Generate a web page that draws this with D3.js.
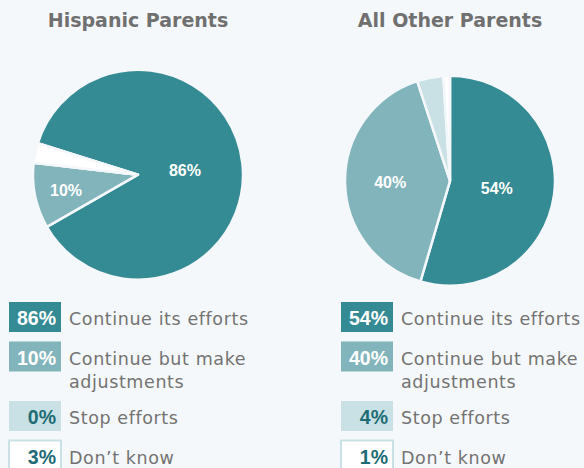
<!DOCTYPE html>
<html>
<head>
<meta charset="utf-8">
<script src="https://cdn.jsdelivr.net/npm/d3@7/dist/d3.min.js"></script>
<style>
  html, body { margin: 0; padding: 0; background: #f5f8fa; }
  svg { display: block; }
</style>
</head>
<body>
<svg id="chart" width="584" height="468"></svg>
<script>
// Survey answers, one array per parent group, in the order of the categories.
const categories = ["Continue its efforts", "Continue but make adjustments", "Stop efforts", "Don\u2019t know"];
const groups = ["Hispanic Parents", "All Other Parents"];
const hispanicValues = [86, 10, 0, 3];
const otherValues = [54, 40, 4, 1];

const sliceColors = ["#358b94", "#82b5bb", "#c9e1e4", "#ffffff"];
const numberColors = ["#ffffff", "#ffffff", "#1d6c75", "#1d6c75"];
const bg = "#f5f8fa";

const W = 584, H = 468, R = 105;
const svg = d3.select("#chart");

svg.append("rect").attr("width", W).attr("height", H).attr("fill", bg);

const panels = [
  { title: groups[0], values: hispanicValues, cx: 138, cy: 174.7, start: -72.5, legendX: 9 },
  { title: groups[1], values: otherValues, cx: 450, cy: 180.8, start: 0, legendX: 341 }
];

const colorScale = d3.scaleOrdinal().domain(d3.range(categories.length)).range(sliceColors);
const numberScale = d3.scaleOrdinal().domain(d3.range(categories.length)).range(numberColors);
// Smaller slices get their label pushed further out from the centre.
const labelRadius = d3.scaleLinear().domain([10, 40, 54]).range([0.70, 0.57, 0.45]).clamp(true);

const arc = d3.arc().innerRadius(0).outerRadius(R);

// Word-wrap helper for legend labels.
function wrapLines(text, maxWidth, style) {
  const probe = svg.append("text").call(style);
  const words = text.split(" ");
  const lines = [];
  let line = "";
  words.forEach(w => {
    const test = line ? line + " " + w : w;
    probe.text(test);
    if (probe.node().getComputedTextLength() > maxWidth && line) {
      lines.push(line);
      line = w;
    } else {
      line = test;
    }
  });
  if (line) lines.push(line);
  probe.remove();
  return lines;
}

const legendTextStyle = sel => sel
  .attr("font-family", "'DejaVu Sans', sans-serif")
  .attr("font-size", 17.5)
  .attr("letter-spacing", 0.6)
  .attr("fill", "#737373");

panels.forEach(p => {
  const g = svg.append("g");

  g.append("text")
    .attr("x", p.cx)
    .attr("y", 27)
    .attr("text-anchor", "middle")
    .attr("font-family", "'DejaVu Sans', sans-serif")
    .attr("font-weight", "bold")
    .attr("font-size", 19)
    .attr("fill", "#707070")
    .text(p.title);

  const a0 = p.start * Math.PI / 180;
  const pie = d3.pie().sort(null).value(d => d).startAngle(a0).endAngle(a0 + 2 * Math.PI);
  const arcs = pie(p.values).map((d, i) => Object.assign(d, { index: i }));

  const pg = g.append("g").attr("transform", `translate(${p.cx},${p.cy})`);
  pg.selectAll("path")
    .data(arcs)
    .join("path")
    .attr("d", arc)
    .attr("fill", d => colorScale(d.index))
    .attr("stroke", bg)
    .attr("stroke-width", 2.5)
    .attr("stroke-linejoin", "round");

  pg.selectAll("text")
    .data(arcs.filter(d => d.data >= 10))
    .join("text")
    .attr("transform", d => {
      const r = R * labelRadius(d.data);
      const c = d3.arc().innerRadius(r).outerRadius(r).centroid(d);
      return `translate(${c[0]},${c[1] + 1})`;
    })
    .attr("text-anchor", "middle")
    .attr("dy", "0.35em")
    .attr("font-family", "'Liberation Sans', Arial, sans-serif")
    .attr("font-weight", "bold")
    .attr("font-size", 16)
    .attr("fill", "#ffffff")
    .text(d => d.data + "%");

  // Legend
  const boxW = 52, boxH = 30, gap = 9.5, lineH = 23;
  let y = 302;
  categories.forEach((cat, i) => {
    const lg = g.append("g");
    const isOutline = i === categories.length - 1;
    lg.append("rect")
      .attr("x", p.legendX)
      .attr("y", y)
      .attr("width", boxW)
      .attr("height", boxH)
      .attr("fill", colorScale(i))
      .attr("stroke", isOutline ? sliceColors[2] : "none")
      .attr("stroke-width", isOutline ? 2 : 0);

    lg.append("text")
      .attr("x", p.legendX + boxW - 5)
      .attr("y", y + 23)
      .attr("text-anchor", "end")
      .attr("font-family", "'Liberation Sans', Arial, sans-serif")
      .attr("font-weight", "bold")
      .attr("font-size", 19.5)
      .attr("fill", numberScale(i))
      .text(p.values[i] + "%");

    const lines = wrapLines(cat, 190, legendTextStyle);
    const t = lg.append("text")
      .attr("x", p.legendX + boxW + 8)
      .attr("y", y + 23)
      .call(legendTextStyle);
    lines.forEach((ln, k) => {
      t.append("tspan")
        .attr("x", p.legendX + boxW + 8)
        .attr("dy", k === 0 ? 0 : lineH)
        .text(ln);
    });

    y += boxH + gap + (lines.length - 1) * (lineH - 3);
  });
});
</script>
</body>
</html>
